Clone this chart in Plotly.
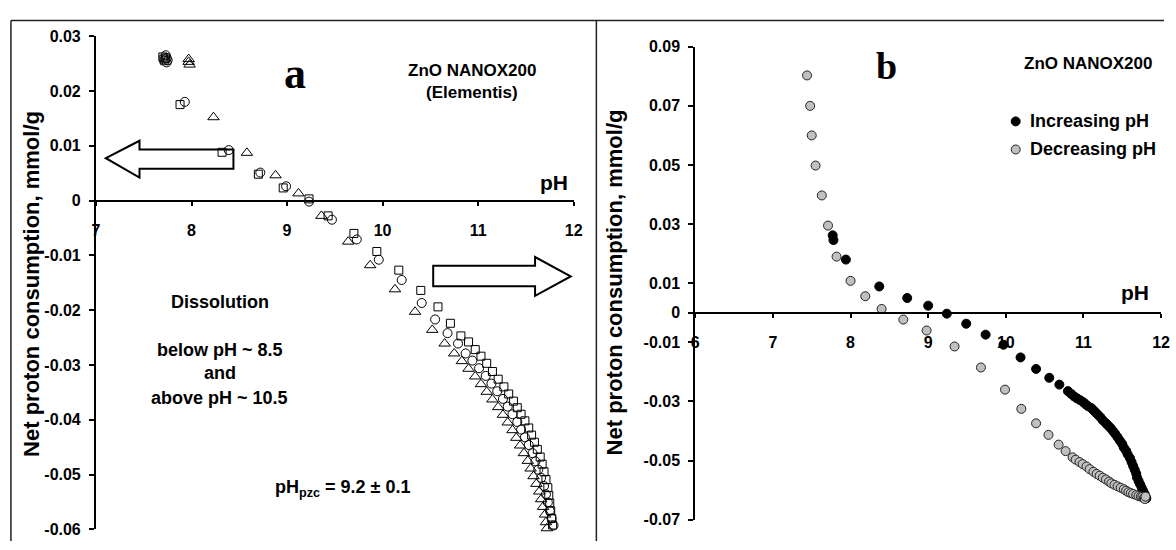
import plotly.graph_objects as go

W, H = 1176, 550

# ---- Panel a: three titration runs (pH, net proton consumption mmol/g)
run1_ph = [7.70, 7.71, 7.72, 7.73, 7.88, 8.32, 8.70, 8.96, 9.23, 9.43, 9.70, 9.94, 10.17,
           10.40, 10.58, 10.71, 10.82, 10.90, 10.97, 11.03, 11.09, 11.15, 11.21, 11.27,
           11.32, 11.37, 11.41, 11.45, 11.49, 11.53, 11.56, 11.59, 11.62, 11.65, 11.67,
           11.69, 11.71, 11.73, 11.74, 11.75, 11.76, 11.77, 11.78]
run1_q = [0.0262, 0.0258, 0.0255, 0.0260, 0.0175, 0.0088, 0.0048, 0.0023, 0.0003, -0.0028,
          -0.0060, -0.0093, -0.0127, -0.0164, -0.0194, -0.0224, -0.0247, -0.0258, -0.0272,
          -0.0284, -0.0297, -0.0312, -0.0326, -0.0340, -0.0353, -0.0366, -0.0378, -0.0390,
          -0.0402, -0.0415, -0.0428, -0.0441, -0.0454, -0.0468, -0.0481, -0.0495, -0.0509,
          -0.0524, -0.0538, -0.0552, -0.0566, -0.0580, -0.0592]

run2_ph = [7.73, 7.74, 7.75, 7.74, 7.93, 8.39, 8.72, 8.99, 9.23, 9.47, 9.73, 9.96, 10.20,
           10.41, 10.55, 10.68, 10.79, 10.87, 10.94, 11.01, 11.08, 11.14, 11.20, 11.26,
           11.31, 11.36, 11.41, 11.45, 11.49, 11.53, 11.57, 11.60, 11.63, 11.66, 11.69,
           11.71, 11.73, 11.75, 11.77, 11.79]
run2_q = [0.0265, 0.0260, 0.0256, 0.0252, 0.0180, 0.0092, 0.0051, 0.0026, -0.0002, -0.0035,
          -0.0071, -0.0108, -0.0145, -0.0187, -0.0217, -0.0242, -0.0261, -0.0279, -0.0292,
          -0.0306, -0.0320, -0.0334, -0.0348, -0.0362, -0.0376, -0.0390, -0.0404, -0.0418,
          -0.0432, -0.0446, -0.0461, -0.0476, -0.0491, -0.0506, -0.0521, -0.0536, -0.0551,
          -0.0566, -0.0580, -0.0593]

run3_ph = [7.97, 7.97, 7.98, 8.23, 8.58, 8.88, 9.12, 9.36, 9.64, 9.87, 10.13, 10.34, 10.52,
           10.65, 10.75, 10.83, 10.90, 10.97, 11.03, 11.09, 11.15, 11.21, 11.26, 11.31,
           11.36, 11.40, 11.44, 11.48, 11.52, 11.55, 11.58, 11.61, 11.64, 11.66, 11.68,
           11.70, 11.71, 11.72]
run3_q = [0.0258, 0.0253, 0.0248, 0.0152, 0.0087, 0.0046, 0.0013, -0.0028, -0.0075, -0.0118,
          -0.0162, -0.0203, -0.0236, -0.0261, -0.0279, -0.0293, -0.0307, -0.0321, -0.0335,
          -0.0349, -0.0363, -0.0377, -0.0391, -0.0405, -0.0419, -0.0433, -0.0447, -0.0461,
          -0.0475, -0.0489, -0.0503, -0.0517, -0.0531, -0.0545, -0.0559, -0.0573, -0.0587,
          -0.0598]

# ---- Panel b: forward and back titration
inc_ph = [7.77, 7.78, 7.94, 8.37, 8.73, 9.00, 9.24, 9.49, 9.74, 9.97, 10.19, 10.39, 10.56,
          10.69, 10.80, 10.84, 10.88, 10.92, 10.96, 11.00, 11.03, 11.06, 11.10, 11.13,
          11.16, 11.19, 11.22, 11.25, 11.29, 11.32, 11.35, 11.38, 11.41, 11.44, 11.47,
          11.50, 11.52, 11.55, 11.57, 11.60, 11.62, 11.64, 11.66, 11.68, 11.69, 11.71,
          11.73, 11.75, 11.77, 11.79, 11.80, 11.81]
inc_q = [0.0262, 0.0246, 0.0180, 0.0089, 0.0050, 0.0024, -0.0003, -0.0037, -0.0074, -0.0108,
         -0.0151, -0.0190, -0.0220, -0.0243, -0.0265, -0.0274, -0.0283, -0.0290, -0.0296,
         -0.0303, -0.0310, -0.0316, -0.0322, -0.0330, -0.0338, -0.0346, -0.0354, -0.0364,
         -0.0374, -0.0382, -0.0390, -0.0400, -0.0410, -0.0421, -0.0433, -0.0444, -0.0456,
         -0.0467, -0.0479, -0.0492, -0.0505, -0.0518, -0.0531, -0.0544, -0.0557, -0.0569,
         -0.0580, -0.0592, -0.0603, -0.0614, -0.0623, -0.0628]

dec_ph = [7.44, 7.48, 7.50, 7.55, 7.63, 7.71, 7.82, 8.00, 8.19, 8.40, 8.68, 8.98, 9.34,
          9.68, 9.99, 10.20, 10.39, 10.55, 10.68, 10.77, 10.86, 10.90, 10.95, 10.99,
          11.04, 11.08, 11.13, 11.17, 11.21, 11.25, 11.29, 11.33, 11.36, 11.40, 11.44,
          11.48, 11.52, 11.55, 11.58, 11.61, 11.64, 11.68, 11.71, 11.74, 11.76, 11.78,
          11.79, 11.80]
dec_q = [0.0803, 0.0700, 0.0600, 0.0498, 0.0397, 0.0295, 0.0190, 0.0108, 0.0056, 0.0013,
         -0.0023, -0.0060, -0.0114, -0.0185, -0.0260, -0.0325, -0.0374, -0.0413, -0.0446,
         -0.0468, -0.0489, -0.0497, -0.0505, -0.0512, -0.0520, -0.0529, -0.0538, -0.0545,
         -0.0551, -0.0558, -0.0564, -0.0571, -0.0577, -0.0582, -0.0587, -0.0592, -0.0597,
         -0.0602, -0.0607, -0.0610, -0.0613, -0.0617, -0.0620, -0.0622, -0.0623, -0.0627,
         -0.0630, -0.0622]

# axis settings
a_xrange, a_yrange = [7, 12], [-0.06, 0.03]
a_xticks = [7, 8, 9, 10, 11, 12]
a_yticks = [-0.06, -0.05, -0.04, -0.03, -0.02, -0.01, 0, 0.01, 0.02, 0.03]
a_yticktext = ["-0.06", "-0.05", "-0.04", "-0.03", "-0.02", "-0.01", "0", "0.01", "0.02", "0.03"]
b_xrange, b_yrange = [6, 12], [-0.07, 0.09]
b_xticks = [6, 7, 8, 9, 10, 11, 12]
b_yticks = [-0.07, -0.05, -0.03, -0.01, 0, 0.01, 0.03, 0.05, 0.07, 0.09]
b_yticktext = ["-0.07", "-0.05", "-0.03", "-0.01", "0", "0.01", "0.03", "0.05", "0.07", "0.09"]

SANS = "Liberation Sans, Arial, sans-serif"
SERIF = "Liberation Serif, Times New Roman, serif"


def px(x):
    return x / W


def py(y):
    return 1 - y / H


def bold(labels):
    return [f"<b>{t}</b>" for t in labels]


a_xdom = [px(93), px(576)]
a_ydom = [py(538), py(29)]
b_xdom = [px(699), px(1170)]
b_ydom = [py(528), py(40)]


def zero_pos(dom, rng):
    return dom[0] + (0 - rng[0]) / (rng[1] - rng[0]) * (dom[1] - dom[0])


fig = go.Figure()

open_marker = dict(color="black", line=dict(width=1, color="black"))
fig.add_trace(go.Scatter(x=run1_ph, y=run1_q, mode="markers", xaxis="x", yaxis="y",
                         marker=dict(open_marker, symbol="square-open", size=8),
                         cliponaxis=False, showlegend=False))
fig.add_trace(go.Scatter(x=run2_ph, y=run2_q, mode="markers", xaxis="x", yaxis="y",
                         marker=dict(open_marker, symbol="circle-open", size=9),
                         cliponaxis=False, showlegend=False))
fig.add_trace(go.Scatter(x=run3_ph, y=run3_q, mode="markers", xaxis="x", yaxis="y",
                         marker=dict(open_marker, symbol="triangle-up-open", size=10),
                         cliponaxis=False, showlegend=False))

fig.add_trace(go.Scatter(x=inc_ph, y=inc_q, mode="markers", xaxis="x2", yaxis="y2",
                         marker=dict(symbol="circle", size=9, color="black",
                                     line=dict(width=1, color="black")),
                         cliponaxis=False, showlegend=False))
fig.add_trace(go.Scatter(x=dec_ph, y=dec_q, mode="markers", xaxis="x2", yaxis="y2",
                         marker=dict(symbol="circle", size=9, color="#c0c0c0",
                                     line=dict(width=1, color="#222222")),
                         cliponaxis=False, showlegend=False))

tickfont = dict(family=SANS, size=16, color="black")
common_x = dict(showgrid=False, zeroline=False, showline=True, linecolor="black",
                linewidth=2, ticks="outside", ticklen=4, tickwidth=2, tickcolor="black",
                tickfont=tickfont, ticklabelstandoff=11, fixedrange=True)
common_y = dict(showgrid=False, zeroline=False, showline=True, linecolor="black",
                linewidth=2, ticks="outside", ticklen=5, tickwidth=2, tickcolor="black",
                tickfont=tickfont, ticklabelstandoff=5, fixedrange=True)

fig.update_layout(
    width=W, height=H, margin=dict(l=0, r=0, t=0, b=0),
    paper_bgcolor="white", plot_bgcolor="rgba(0,0,0,0)",
    xaxis=dict(common_x, domain=a_xdom, range=a_xrange, anchor="free",
               position=zero_pos(a_ydom, a_yrange), tickvals=a_xticks,
               ticktext=bold(a_xticks)),
    yaxis=dict(common_y, domain=a_ydom, range=a_yrange, anchor="x",
               tickvals=a_yticks, ticktext=bold(a_yticktext)),
    xaxis2=dict(common_x, domain=b_xdom, range=b_xrange, anchor="free",
                position=zero_pos(b_ydom, b_yrange), tickvals=b_xticks,
                ticktext=bold(b_xticks)),
    yaxis2=dict(common_y, domain=b_ydom, range=b_yrange, anchor="x2",
                tickvals=b_yticks, ticktext=bold(b_yticktext)),
)

# panel frames
frame = dict(color="#222222", width=1.5)
shapes = [
    dict(type="line", xref="paper", yref="paper", x0=px(7), x1=px(1173), y0=py(13), y1=py(13), line=frame),
    dict(type="line", xref="paper", yref="paper", x0=px(7), x1=px(7), y0=py(13), y1=0, line=frame),
    dict(type="line", xref="paper", yref="paper", x0=px(599), x1=px(599), y0=py(13), y1=0, line=frame),
]


def arrow_path(pts):
    return "M " + " L ".join(f"{px(x):.5f},{py(y):.5f}" for x, y in pts) + " Z"


# hollow block arrows marking the dissolution regions (drawn beneath the markers)
left_arrow = [(103, 155), (137, 137), (137, 146), (232, 146), (232, 166), (137, 166), (137, 175)]
right_arrow = [(573, 277), (537, 257), (537, 266), (434, 266), (434, 287), (537, 287), (537, 297)]
for pts in (left_arrow, right_arrow):
    shapes.append(dict(type="path", xref="paper", yref="paper", path=arrow_path(pts),
                       layer="below", fillcolor="white", line=dict(color="black", width=2)))

# legend keys for panel b
for ycen, col, edge in ((117, "black", "black"), (146, "#c0c0c0", "#222222")):
    shapes.append(dict(type="circle", xref="paper", yref="paper", xsizemode="pixel",
                       ysizemode="pixel", xanchor=px(1023), yanchor=py(ycen),
                       x0=-4.5, x1=4.5, y0=-4.5, y1=4.5,
                       fillcolor=col, line=dict(color=edge, width=1)))

fig.update_layout(shapes=shapes)


def label(text, x, y, size, family=SANS, xanchor="center", angle=0):
    fig.add_annotation(text=text, xref="paper", yref="paper", x=px(x), y=py(y),
                       xanchor=xanchor, yanchor="middle", showarrow=False, textangle=angle,
                       font=dict(family=family, size=size, color="black"))


label("<b>Net proton consumption, mmol/g</b>", 27, 285, 22, angle=-90)
label("<b>Net proton consumption, mmol/g</b>", 617, 283, 22, angle=-90)
label("<b>pH</b>", 556, 180, 21)
label("<b>pH</b>", 1144, 294, 21)
label("<b>a</b>", 294, 68, 44, family=SERIF)
label("<b>b</b>", 892, 60, 38, family=SERIF)
label("<b>ZnO NANOX200</b>", 473, 64, 17)
label("<b>(Elementis)</b>", 473, 87, 17)
label("<b>ZnO NANOX200</b>", 1096, 57, 17)
label("<b>Increasing pH</b>", 1035, 117, 18, xanchor="left")
label("<b>Decreasing pH</b>", 1035, 146, 18, xanchor="left")
label("<b>Dissolution</b>", 218, 303, 18)
label("<b>below pH ~ 8.5</b>", 218, 353, 18)
label("<b>and</b>", 218, 377, 18)
label("<b>above pH ~ 10.5</b>", 218, 402, 18)
label("<b>pH<sub>pzc</sub> = 9.2 ± 0.1</b>", 342, 496, 18)

fig.write_html("out.html")
